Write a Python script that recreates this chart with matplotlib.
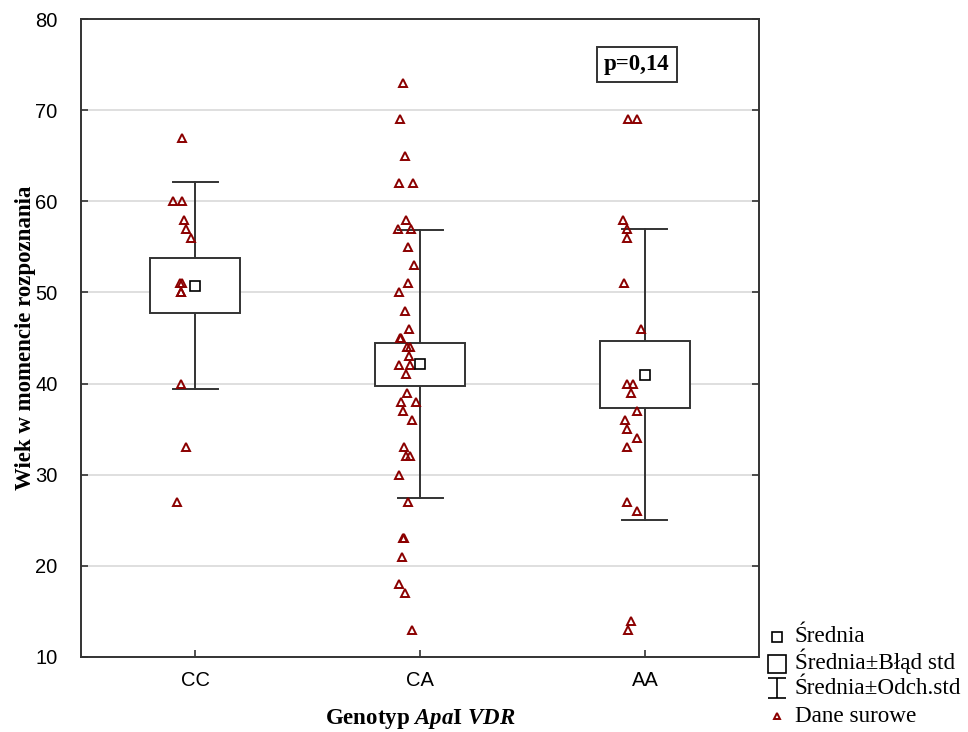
import numpy as np
import matplotlib
matplotlib.use("Agg")
import matplotlib.pyplot as plt
from matplotlib.lines import Line2D
from matplotlib.path import Path

# dane
genotypes = ["CC", "CA", "AA"]
means = [50.75, 42.1, 40.98]
se = [3.05, 2.4, 3.68]
sd = [11.35, 14.7, 15.98]

cc_vals = [67, 60, 60, 58, 57, 56, 51, 51, 50, 50, 40, 33, 27]
cc_jit = [-0.059, -0.098, -0.058, -0.049, -0.04, -0.019, -0.059, -0.067, -0.064, -0.062, -0.064, -0.04, -0.081]

ca_vals = [73, 69, 65, 62, 62, 58, 57, 57, 55, 53, 51, 50, 48, 46, 45, 45, 44, 44, 43,
           42, 42, 41, 39, 38, 38, 37, 36, 33, 32, 32, 30, 27, 23, 23, 21, 18, 17, 13]
ca_jit = [-0.074, -0.089, -0.067, -0.093, -0.032, -0.062, -0.098, -0.04, -0.053, -0.027,
          -0.053, -0.093, -0.067, -0.049, -0.089, -0.084, -0.059, -0.044, -0.049, -0.093,
          -0.044, -0.064, -0.059, -0.084, -0.019, -0.074, -0.034, -0.071, -0.064, -0.044,
          -0.093, -0.053, -0.076, -0.073, -0.081, -0.093, -0.067, -0.037]

aa_vals = [69, 69, 58, 57, 56, 51, 46, 40, 40, 39, 37, 36, 35, 34, 33, 27, 26, 14, 13]
aa_jit = [-0.076, -0.036, -0.096, -0.081, -0.079, -0.092, -0.018, -0.081, -0.052, -0.064,
          -0.037, -0.089, -0.079, -0.037, -0.079, -0.081, -0.037, -0.062, -0.074]

raw_vals = [cc_vals, ca_vals, aa_vals]
raw_jit = [cc_jit, ca_jit, aa_jit]

p_text = "p=0,14"
legend_labels = ["Średnia", "Średnia±Błąd std", "Średnia±Odch.std", "Dane surowe"]

plt.rcParams['mathtext.fontset'] = 'custom'
plt.rcParams['mathtext.rm'] = 'Liberation Serif:bold'
plt.rcParams['mathtext.it'] = 'Liberation Serif:italic:bold'

EDGE = "#333333"
RED = "#8B0000"
W, H = 968, 732

fig = plt.figure(figsize=(9.68, 7.32), dpi=100)
ax = fig.add_axes([0.0837, 0.1025, 0.7004, 0.8715])

box_w = 0.2
cap_w = 0.1
for i in range(len(genotypes)):
    m = means[i]
    # wasy (srednia +/- odch. std)
    ax.plot([i, i], [m + se[i], m + sd[i]], color=EDGE, lw=1.4, zorder=2)
    ax.plot([i, i], [m - se[i], m - sd[i]], color=EDGE, lw=1.4, zorder=2)
    ax.plot([i - cap_w, i + cap_w], [m + sd[i]] * 2, color=EDGE, lw=1.4, zorder=2)
    ax.plot([i - cap_w, i + cap_w], [m - sd[i]] * 2, color=EDGE, lw=1.4, zorder=2)
    # pudelko (srednia +/- blad std)
    ax.add_patch(plt.Rectangle((i - box_w, m - se[i]), 2 * box_w, 2 * se[i],
                               facecolor="white", edgecolor=EDGE, lw=1.4, zorder=3))
    # dane surowe
    xs = [i + j for j in raw_jit[i]]
    ax.plot(xs, raw_vals[i], linestyle="none", marker="^", markersize=6.2,
            markerfacecolor="none", markeredgecolor=RED, markeredgewidth=1.4, zorder=4)
    # srednia
    ax.plot([i], [m], linestyle="none", marker="s", markersize=6.5,
            markerfacecolor="white", markeredgecolor="black", markeredgewidth=1.2, zorder=5)

ax.set_xlim(-0.507, 2.507)
ax.set_ylim(10, 80)
ax.set_xticks(range(len(genotypes)))
ax.set_xticklabels(genotypes)
ax.set_yticks(range(10, 81, 10))
ax.yaxis.grid(True, color="#dcdcdc", lw=1.3)
ax.set_axisbelow(True)
ax.tick_params(direction="in", length=5, width=1.2, color=EDGE, labelsize=14.5,
               right=True, left=True, bottom=True, top=False)
ax.tick_params(axis="y", pad=17)
ax.tick_params(axis="x", pad=10)
for s in ax.spines.values():
    s.set_color(EDGE)
    s.set_linewidth(1.4)
for lab in ax.get_xticklabels() + ax.get_yticklabels():
    lab.set_family("Liberation Sans")

ax.set_ylabel("Wiek w momencie rozpoznania", family="Liberation Serif",
              fontweight="bold", fontsize=16.5, va="center")
ax.yaxis.set_label_coords(-0.0826, 0.5)
ax.set_xlabel(r"Genotyp $\mathit{Apa}$I $\mathit{VDR}$", family="Liberation Serif",
              fontweight="bold", fontsize=16.5, va="center")
ax.xaxis.set_label_coords(0.5, -0.098)

ax.text(1.964, 75.0, p_text, family="Liberation Serif", fontweight="bold",
        fontsize=16.5, ha="center", va="center",
        bbox=dict(boxstyle="square,pad=0.3", facecolor="white", edgecolor=EDGE, lw=1.4))

# legenda rysowana recznie (rowne odstepy wierszy)
ibeam = Path([(-0.9, 1), (0.9, 1), (0, 1), (0, -1), (-0.9, -1), (0.9, -1)],
             [Path.MOVETO, Path.LINETO, Path.MOVETO, Path.LINETO, Path.MOVETO, Path.LINETO])
handle_styles = [
    dict(marker="s", markersize=6.5, markerfacecolor="white", markeredgecolor="black", markeredgewidth=1.2),
    dict(marker="s", markersize=13, markerfacecolor="white", markeredgecolor="black", markeredgewidth=1.2),
    dict(marker=ibeam, markersize=14, markerfacecolor="none", markeredgecolor="black", markeredgewidth=1.2),
    dict(marker="^", markersize=5, markerfacecolor="none", markeredgecolor=RED, markeredgewidth=1.4),
]
handle_y = [637, 664, 688, 716]
text_base = [642, 669, 693.5, 721.5]
for k, lab in enumerate(legend_labels):
    fig.add_artist(Line2D([776.5 / W], [1 - handle_y[k] / H], linestyle="none",
                          transform=fig.transFigure, **handle_styles[k]))
    fig.text(795 / W, 1 - text_base[k] / H, lab, family="Liberation Serif",
             fontsize=16.7, ha="left", va="baseline")

fig.savefig("out.png", dpi=100)
